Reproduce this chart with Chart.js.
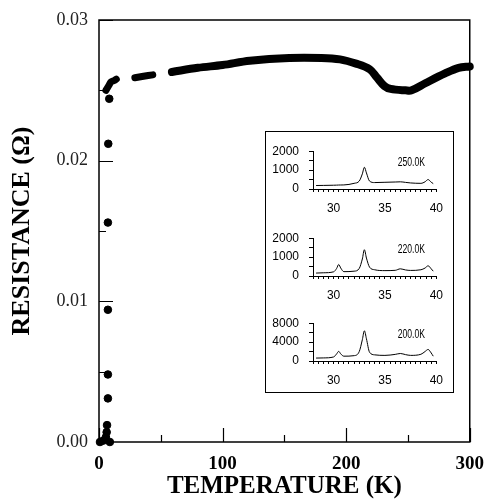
<!DOCTYPE html>
<html>
<head>
<meta charset="utf-8">
<script src="https://cdn.jsdelivr.net/npm/chart.js@4.4.1/dist/chart.umd.min.js"></script>
<style>
  html, body { margin: 0; padding: 0; background: #fff; }
  #wrap { position: relative; width: 487px; height: 500px; }
  #main { position: absolute; left: 0; top: 0; }
  #insetBox { position: absolute; left: 265px; top: 131px; width: 189px; height: 262px;
              border: 1px solid #000; background: #fff; box-sizing: border-box; }
  .panel { position: absolute; left: 266px; }
</style>
</head>
<body>
<div id="wrap">
  <canvas id="main" width="487" height="500"></canvas>
  <div id="insetBox"></div>
  <canvas class="panel" id="p250" width="186" height="84" style="top:134px"></canvas>
  <canvas class="panel" id="p220" width="186" height="84" style="top:221px"></canvas>
  <canvas class="panel" id="p200" width="186" height="84" style="top:306px"></canvas>
</div>
<script>
// ── main curve: resistance vs temperature ───────────────
const dropT = [0.8, 3.5, 5.6, 6.2, 6.5, 7.2, 7.2, 7.2, 7.2, 7.5, 8.3, 8.8];
const dropR = [0.0000, 0.0001, 0.00035, 0.0007, 0.0012, 0.0031, 0.0048, 0.0094, 0.0156, 0.0212, 0.0244, 0.0000];
const hookT = [5.6, 7, 8.3, 9.7, 12.3, 14];
const hookR = [0.0250, 0.0252, 0.0254, 0.0256, 0.0257, 0.0258];
const clusterT = [29, 36, 43.5];
const clusterR = [0.0259, 0.0260, 0.0261];
const bandT = [59, 80, 100, 122, 154, 180, 195, 208, 219, 225, 231, 236, 248, 253, 264, 280, 291, 300];
const bandR = [0.0263, 0.0266, 0.0268, 0.0271, 0.0273, 0.0273, 0.0272, 0.0269, 0.0265, 0.0259,
               0.0253, 0.0251, 0.0250, 0.0250, 0.0255, 0.0262, 0.0266, 0.0267];

// ── inset: diffraction scans (2θ) at three temperatures ─
const angle = [28.3, 29, 30, 30.3, 30.5, 30.7, 31, 32, 32.5, 32.8, 33.0, 33.2, 33.5,
               34, 35, 36, 36.5, 37, 37.5, 38.5, 38.9, 39.2, 39.5, 39.7];
const scan250 = [185, 190, 200, 205, 210, 212, 215, 300, 420, 800, 1150, 850, 420,
                 340, 355, 370, 380, 350, 320, 300, 380, 500, 360, 285];
const scan220 = [155, 170, 220, 400, 610, 420, 230, 255, 400, 900, 1390, 950, 470,
                 330, 285, 300, 380, 320, 295, 330, 420, 540, 380, 255];
const scan200 = [620, 650, 850, 1500, 2040, 1500, 1020, 1130, 2000, 4500, 6400, 4700, 1870,
                 1300, 1190, 1400, 1590, 1350, 1190, 1420, 2000, 2440, 1700, 1020];

const pts = (xs, ys) => xs.map((x, i) => ({ x, y: ys[i] }));

// frame + inward ticks for the main plot
const frameTicks = {
  id: 'frameTicks',
  afterDraw(chart) {
    const { ctx, chartArea: a, scales: { x, y } } = chart;
    ctx.save();
    ctx.strokeStyle = '#000';
    ctx.lineWidth = 1.5;
    ctx.strokeRect(a.left, a.top, a.right - a.left, a.bottom - a.top);
    ctx.lineWidth = 1.2;
    ctx.beginPath();
    y.ticks.forEach((t, i) => {
      const py = Math.round(y.getPixelForValue(t.value)) + 0.5;
      const len = i % 2 === 0 ? 14 : 7;
      ctx.moveTo(a.left, py); ctx.lineTo(a.left + len, py);
    });
    x.ticks.forEach((t, i) => {
      const px = Math.round(x.getPixelForValue(t.value)) + 0.5;
      const len = i % 2 === 0 ? 14 : 7;
      ctx.moveTo(px, a.bottom); ctx.lineTo(px, a.bottom - len);
    });
    ctx.stroke();
    ctx.restore();
  }
};

const bandStyle = {
  type: 'line', showLine: true, borderColor: '#000', borderWidth: 8,
  borderCapStyle: 'round', borderJoinStyle: 'round', pointRadius: 0,
  tension: 0.35, clip: 6
};

new Chart(document.getElementById('main'), {
  type: 'scatter',
  data: {
    datasets: [
      { data: pts(dropT, dropR), backgroundColor: '#000', borderColor: '#000', pointRadius: 3.8, clip: 6 },
      { ...bandStyle, data: pts(hookT, hookR), borderWidth: 7 },
      { ...bandStyle, data: pts(clusterT, clusterR), borderWidth: 7 },
      { ...bandStyle, data: pts(bandT, bandR) },
      { ...bandStyle, data: pts(bandT, bandR), borderWidth: 1, borderColor: '#9a9a9a', borderDash: [3, 6] }
    ]
  },
  options: {
    responsive: false,
    animation: false,
    layout: { padding: { top: 20, right: 8, left: 0, bottom: 0 } },
    plugins: { legend: { display: false }, tooltip: { enabled: false } },
    scales: {
      x: {
        type: 'linear', min: 0, max: 300,
        afterFit: s => { s.height = 58; },
        grid: { display: false },
        border: { display: false },
        ticks: {
          stepSize: 50, padding: 3, color: '#000',
          font: { family: 'Liberation Serif', size: 19, weight: 'bold' },
          callback: v => (v % 100 === 0 ? v : '')
        },
        title: {
          display: true, text: 'TEMPERATURE (K)', color: '#000',
          font: { family: 'Liberation Serif', size: 25, weight: 'bold', lineHeight: 1.1 },
          padding: { top: 0, bottom: 0 }
        }
      },
      y: {
        min: 0, max: 0.03,
        afterFit: s => { s.width = 99; },
        grid: { display: false },
        border: { display: false },
        ticks: {
          stepSize: 0.005, padding: 3, color: '#222',
          font: { family: 'Liberation Serif', size: 18 },
          callback: v => (Math.round(v * 1000) % 10 === 0 ? v.toFixed(2) : '')
        },
        title: {
          display: true, text: 'RESISTANCE (\u03A9)', color: '#000',
          font: { family: 'Liberation Serif', size: 26, weight: 'bold', lineHeight: 1.2 },
          padding: { top: 7, bottom: 0 }
        }
      }
    }
  },
  plugins: [frameTicks]
});

// ── inset panels ────────────────────────────────────────
const tempLabel = {
  id: 'tempLabel',
  afterDraw(chart, args, opts) {
    const { ctx, chartArea: a } = chart;
    ctx.save();
    ctx.translate(a.right - 25, a.top + 11);
    ctx.scale(0.72, 1);
    ctx.font = '12px "Liberation Sans"';
    ctx.fillStyle = '#000';
    ctx.textAlign = 'center';
    ctx.textBaseline = 'middle';
    ctx.fillText(opts.text, 0, 0);
    ctx.restore();
  }
};

function makePanel(id, values, yMax, yStep, label) {
  new Chart(document.getElementById(id), {
    type: 'line',
    data: {
      datasets: [{
        data: pts(angle, values), borderColor: '#000', borderWidth: 1,
        pointRadius: 0, cubicInterpolationMode: 'monotone'
      }]
    },
    options: {
      responsive: false,
      animation: false,
      layout: { padding: { top: 8, right: 4, left: 0, bottom: 0 } },
      plugins: { legend: { display: false }, tooltip: { enabled: false }, tempLabel: { text: label } },
      scales: {
        x: {
          type: 'linear', min: 28, max: 40,
          afterFit: s => { s.height = 29; },
          grid: { drawOnChartArea: false, tickLength: 3, color: '#000' },
          border: { color: '#000', width: 1 },
          ticks: {
            stepSize: 0.5, padding: 9, color: '#000', autoSkip: false, maxRotation: 0,
            font: { family: 'Liberation Sans', size: 12 },
            callback: v => (v % 5 === 0 ? v : '')
          }
        },
        y: {
          min: 0, max: yMax,
          afterFit: s => { s.width = 47; },
          grid: { drawOnChartArea: false, tickLength: 4, color: '#000' },
          border: { color: '#000', width: 1 },
          ticks: {
            stepSize: yStep, padding: 10, color: '#000', autoSkip: false,
            font: { family: 'Liberation Sans', size: 12 },
            callback: v => (v % (yStep * 2) === 0 ? v : '')
          }
        }
      }
    },
    plugins: [tempLabel]
  });
}

makePanel('p250', scan250, 2000, 500, '250.0K');
makePanel('p220', scan220, 2000, 500, '220.0K');
makePanel('p200', scan200, 8000, 2000, '200.0K');
</script>
</body>
</html>
